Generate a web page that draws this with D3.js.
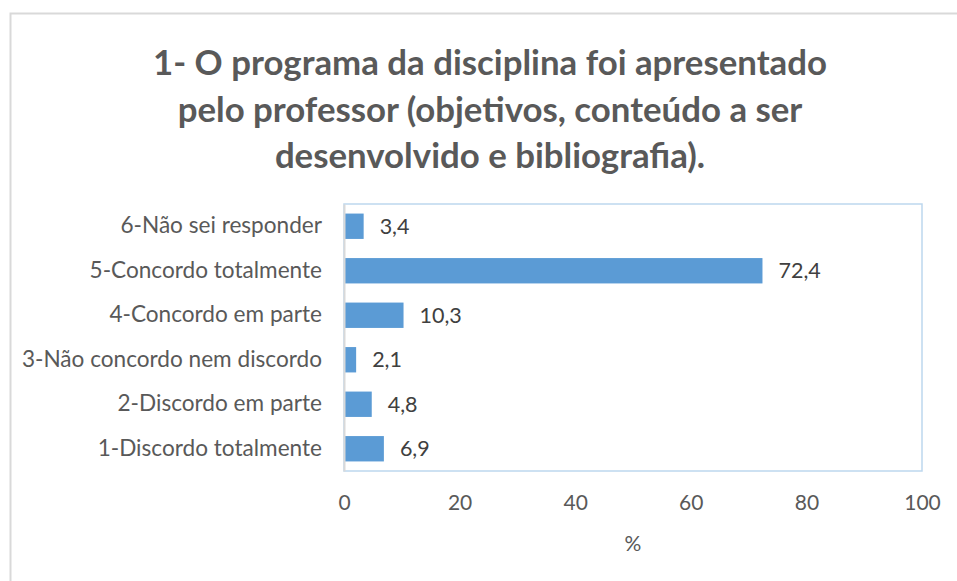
<!DOCTYPE html>
<html>
<head>
<meta charset="utf-8">
<script src="https://cdn.jsdelivr.net/npm/d3@7"></script>
<style>
  body { margin: 0; background: #fff; }
  svg { display: block; font-family: Lato, "Open Sans", sans-serif; }
</style>
</head>
<body>
<div id="chart"></div>
<script>
// data, top to bottom as drawn
var categories = [
  "6-Não sei responder",
  "5-Concordo totalmente",
  "4-Concordo em parte",
  "3-Não concordo nem discordo",
  "2-Discordo em parte",
  "1-Discordo totalmente"
];
var values = [3.4, 72.4, 10.3, 2.1, 4.8, 6.9];
var xTicks = [0, 20, 40, 60, 80, 100];
var titleLines = [
  "1- O programa da disciplina foi apresentado",
  "pelo professor (objetivos, conteúdo a ser",
  "desenvolvido e bibliografia)."
];

var W = 957, H = 581;
var margin = {top: 204, right: 35, bottom: 110, left: 344};
var width = W - margin.left - margin.right;
var height = H - margin.top - margin.bottom;

var svg = d3.select("#chart").append("svg")
    .attr("width", W)
    .attr("height", H);

// outer chart border
svg.append("rect")
    .attr("x", 10.5)
    .attr("y", 13.5)
    .attr("width", W + 20)
    .attr("height", H + 20)
    .attr("fill", "none")
    .attr("stroke", "#d9d9d9")
    .attr("stroke-width", 2);

// title
svg.append("g")
    .selectAll("text")
    .data(titleLines)
    .enter().append("text")
    .attr("x", 490)
    .attr("y", function(d, i) { return 63 + i * 46.5; })
    .attr("dy", "0.35em")
    .style("text-anchor", "middle")
    .style("font-weight", 700)
    .style("font-size", "34.8px")
    .style("fill", "#595959")
    .text(function(d) { return d; });

var g = svg.append("g")
    .attr("transform", "translate(" + margin.left + "," + margin.top + ")");

var x = d3.scaleLinear()
    .domain([0, 100])
    .range([0, width]);

var y = d3.scaleBand()
    .domain(categories)
    .range([0, height])
    .paddingInner(0.43)
    .paddingOuter(0.215);

// plot area border
g.append("rect")
    .attr("x", 0)
    .attr("y", 0)
    .attr("width", width)
    .attr("height", height)
    .attr("fill", "none")
    .attr("stroke", "#bdd7ee")
    .attr("stroke-width", 1.5);

// bars
g.selectAll(".bar")
    .data(values)
    .enter().append("rect")
    .attr("class", "bar")
    .attr("x", x(0) + 1)
    .attr("y", function(d, i) { return y(categories[i]); })
    .attr("width", function(d) { return x(d) - x(0) - 1; })
    .attr("height", y.bandwidth())
    .attr("fill", "#5b9bd5");

// value labels
g.selectAll(".val")
    .data(values)
    .enter().append("text")
    .attr("class", "val")
    .attr("x", function(d) { return x(d) + 16; })
    .attr("y", function(d, i) { return y(categories[i]) + y.bandwidth() / 2; })
    .attr("dy", "0.35em")
    .style("font-size", "21.5px")
    .style("fill", "#404040")
    .text(function(d) { return d.toFixed(1).replace(".", ","); });

// category axis
var yAxis = d3.axisLeft(y).tickSize(0).tickPadding(22);
var yg = g.append("g").attr("class", "y-axis").call(yAxis);
yg.select(".domain").attr("stroke", "#d9d9d9").attr("stroke-width", 2);
yg.selectAll("text")
    .style("font-size", "22.6px")
    .style("font-family", "Lato, 'Open Sans', sans-serif")
    .style("fill", "#595959");

// value axis (labels only)
var xAxis = d3.axisBottom(x).tickValues(xTicks).tickSize(0).tickPadding(24);
var xg = g.append("g")
    .attr("class", "x-axis")
    .attr("transform", "translate(0," + height + ")")
    .call(xAxis);
xg.select(".domain").remove();
xg.selectAll("text")
    .style("font-size", "21px")
    .style("font-family", "Lato, 'Open Sans', sans-serif")
    .style("fill", "#595959");

// axis title
g.append("text")
    .attr("x", width / 2)
    .attr("y", height + 73)
    .attr("dy", "0.35em")
    .style("text-anchor", "middle")
    .style("font-size", "21px")
    .style("fill", "#595959")
    .text("%");
</script>
</body>
</html>
